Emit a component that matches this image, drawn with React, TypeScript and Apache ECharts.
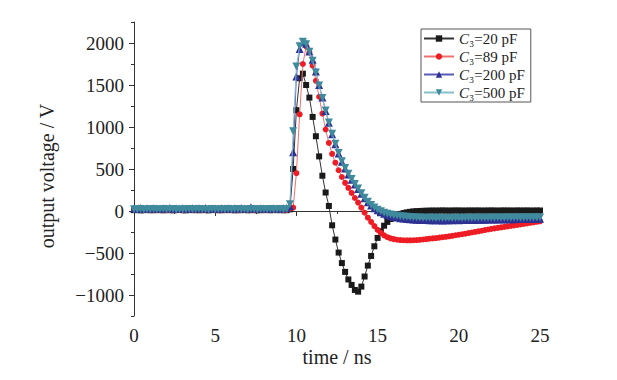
import React, { useEffect, useRef } from "react";
import * as echarts from "echarts";

const times = [
  0, 0.2, 0.4, 0.6, 0.8, 1, 1.2, 1.4, 1.6, 1.8, 2, 2.2, 2.4, 2.6, 2.8, 3, 3.2, 3.4, 3.6, 3.8,
  4, 4.2, 4.4, 4.6, 4.8, 5, 5.2, 5.4, 5.6, 5.8, 6, 6.2, 6.4, 6.6, 6.8, 7, 7.2, 7.4, 7.6, 7.8,
  8, 8.2, 8.4, 8.6, 8.8, 9, 9.2, 9.4, 9.6, 9.8, 10, 10.2, 10.4, 10.6, 10.8, 11, 11.2, 11.4, 11.6, 11.8,
  12, 12.2, 12.4, 12.6, 12.8, 13, 13.2, 13.4, 13.6, 13.8, 14, 14.2, 14.4, 14.6, 14.8, 15, 15.2, 15.4, 15.6, 15.8,
  16, 16.2, 16.4, 16.6, 16.8, 17, 17.2, 17.4, 17.6, 17.8, 18, 18.2, 18.4, 18.6, 18.8, 19, 19.2, 19.4, 19.6, 19.8,
  20, 20.2, 20.4, 20.6, 20.8, 21, 21.2, 21.4, 21.6, 21.8, 22, 22.2, 22.4, 22.6, 22.8, 23, 23.2, 23.4, 23.6, 23.8,
  24, 24.2, 24.4, 24.6, 24.8, 25,
];

// C3 = 20 pF
const v20 = [
  10, 12, 8, 10, 14, 9, 11, 10, 13, 8, 12, 10, 9, 11, 14, 10, 8, 12, 10, 11,
  9, 13, 10, 8, 12, 11, 10, 9, 13, 10, 12, 8, 11, 10, 14, 9, 10, 12, 8, 11,
  10, 13, 9, 12, 10, 11, 9, 10, 20, 500, 1200, 1580, 1635, 1500, 1350, 1120, 890, 650, 420, 220,
  60, -170, -340, -495, -620, -725, -815, -880, -940, -960, -900, -780, -650, -535, -420, -320, -240, -175, -130, -95,
  -68, -48, -35, -25, -16, -10, -5, -2, 0, 2, 3, 4, 5, 4, 5, 6, 5, 4, 5, 6,
  5, 5, 4, 6, 5, 5, 6, 4, 5, 5, 6, 5, 4, 5, 6, 5, 5, 4, 6, 5,
  5, 6, 4, 5, 5, 6,
];

// C3 = 89 pF
const v89 = [
  15, 10, 12, 16, 11, 14, 10, 13, 15, 12, 10, 14, 11, 16, 12, 10, 13, 15, 11, 12,
  14, 10, 13, 12, 15, 11, 10, 14, 12, 13, 11, 15, 10, 12, 14, 11, 13, 10, 15, 12,
  11, 14, 10, 13, 12, 11, 14, 12, 30, 40, 450, 1150, 1750, 1960, 1890, 1730, 1550, 1360, 1160, 970,
  810, 680, 575, 485, 405, 335, 275, 215, 155, 100, 40, -20, -80, -130, -180, -225, -260, -290, -312, -326,
  -335, -342, -346, -348, -349, -349, -348, -346, -343, -339, -335, -330, -326, -322, -317, -312, -307, -301, -295, -289,
  -283, -277, -270, -263, -256, -249, -242, -235, -227, -220, -213, -207, -201, -195, -189, -183, -177, -171, -165, -159,
  -153, -147, -141, -135, -129, -123,
];

// C3 = 200 pF
const v200 = [
  30, 25, 35, 28, 32, 26, 34, 30, 27, 33, 29, 35, 26, 31, 28, 34, 30, 27, 33, 29,
  32, 26, 35, 28, 31, 30, 27, 34, 29, 32, 28, 33, 26, 35, 30, 28, 45, 30, 27, 33,
  29, 31, 28, 34, 30, 27, 32, 35, 60, 700, 1600, 1930, 2010, 1990, 1900, 1800, 1660, 1500, 1350, 1190,
  1050, 915, 795, 685, 585, 505, 435, 372, 315, 262, 205, 152, 105, 66, 34, 8, -14, -32, -47, -60,
  -70, -78, -85, -90, -95, -99, -102, -104, -106, -107, -108, -110, -109, -111, -110, -112, -110, -109, -111, -108,
  -109, -107, -108, -106, -105, -106, -104, -103, -104, -102, -101, -102, -100, -99, -100, -98, -97, -98, -96, -95,
  -96, -94, -93, -94, -92, -91,
];

// C3 = 500 pF
const v500 = [
  20, 18, 24, 16, 22, 19, 25, 17, 21, 23, 18, 20, 24, 16, 22, 19, 21, 25, 17, 20,
  23, 18, 22, 16, 24, 19, 21, 20, 17, 23, 18, 22, 25, 19, 20, 16, 24, 21, 18, 22,
  20, 17, 23, 19, 21, 25, 18, 22, 80, 950, 1720, 1960, 2015, 1985, 1895, 1790, 1650, 1495, 1345, 1195,
  1055, 920, 800, 690, 592, 512, 442, 380, 322, 268, 212, 158, 110, 72, 42, 16, -4, -20, -33, -43,
  -51, -57, -62, -66, -69, -72, -74, -76, -77, -79, -80, -81, -80, -82, -81, -83, -82, -81, -83, -82,
  -81, -82, -80, -81, -82, -80, -81, -79, -80, -81, -79, -80, -78, -79, -80, -78, -79, -77, -78, -79,
  -77, -78, -76, -77, -78, -76,
];

const seriesNames = ["C3=20 pF", "C3=89 pF", "C3=200 pF", "C3=500 pF"];
const legendValues = ["20 pF", "89 pF", "200 pF", "500 pF"];
const yMajorTicks = [-1000, -500, 0, 500, 1000, 1500, 2000];
const yMinorTicks = [-1250, -1000, -750, -500, -250, 0, 250, 500, 750, 1000, 1250, 1500, 1750, 2000, 2250];

const SERIF = "Liberation Serif";

function pairs(vals: number[]) {
  return vals.map((v, i) => [times[i], v]);
}

export default function App() {
  const ref = useRef<HTMLDivElement>(null);
  useEffect(() => {
    if (!ref.current) return;
    const chart = echarts.init(ref.current, undefined, { renderer: "svg" });
    const mk = (
      idx: number,
      vals: number[],
      color: string,
      lineColor: string,
      symbol: string,
      size: number,
      rotate: number
    ) => ({
      name: seriesNames[idx],
      type: "line",
      data: pairs(vals),
      symbol,
      symbolSize: size,
      symbolRotate: rotate,
      showSymbol: true,
      showAllSymbol: true,
      itemStyle: { color },
      lineStyle: { color: lineColor, width: 1 },
      emphasis: { disabled: true },
      z: 2 + idx,
    });
    const option: any = {
      animation: false,
      backgroundColor: "#ffffff",
      textStyle: { fontFamily: SERIF },
      grid: { left: 134, right: 77, top: 22, bottom: 64 },
      legend: {
        left: 421,
        top: 29,
        orient: "vertical",
        data: seriesNames,
        itemWidth: 30,
        itemHeight: 8,
        itemGap: 3,
        padding: [2, 6, 2, 2],
        borderColor: "#555",
        borderWidth: 1,
        formatter: (name: string) => {
          const i = seriesNames.indexOf(name);
          return "{c|C}{t|\u2083=" + legendValues[i] + "}";
        },
        textStyle: {
          fontFamily: SERIF,
          fontSize: 15,
          color: "#222",
          lineHeight: 14,
          rich: {
            c: { fontFamily: SERIF, fontSize: 15, fontStyle: "italic", color: "#222", lineHeight: 14 },
            t: { fontFamily: SERIF, fontSize: 15, color: "#222", lineHeight: 14 },
          },
        },
      },
      xAxis: {
        type: "value",
        min: 0,
        max: 25,
        interval: 5,
        axisLine: { show: true, lineStyle: { color: "#333", width: 1 } },
        axisTick: { show: true, length: 5, lineStyle: { color: "#333" } },
        minorTick: { show: true, splitNumber: 2, length: 3, lineStyle: { color: "#333" } },
        splitLine: { show: false },
        axisLabel: { fontFamily: SERIF, fontSize: 19, color: "#222", margin: 10 },
      },
      yAxis: [
        {
          type: "value",
          min: -1250,
          max: 2250,
          interval: 250,
          position: "left",
          axisLine: { show: true, lineStyle: { color: "#333", width: 1 } },
          axisTick: { show: true, length: 5, customValues: yMajorTicks, lineStyle: { color: "#333" } },
          splitLine: { show: false },
          axisLabel: {
            customValues: yMajorTicks,
            fontFamily: SERIF,
            fontSize: 19,
            color: "#222",
            margin: 10,
            formatter: (v: number) => (v < 0 ? "\u2212" + Math.abs(v) : String(v)),
          },
        },
        {
          type: "value",
          min: -1250,
          max: 2250,
          interval: 250,
          position: "left",
          offset: 0,
          axisLine: { show: false },
          axisTick: { show: true, length: 3, customValues: yMinorTicks, lineStyle: { color: "#333" } },
          splitLine: { show: false },
          axisLabel: { show: false },
        },
      ],
      graphic: [
        {
          type: "text",
          x: 47,
          y: 176,
          rotation: Math.PI / 2,
          style: {
            text: "output voltage / V",
            fontFamily: SERIF,
            fontSize: 20,
            fill: "#222",
            align: "center",
            verticalAlign: "middle",
          },
        },
        {
          type: "text",
          x: 337,
          y: 357,
          style: {
            text: "time / ns",
            fontFamily: SERIF,
            fontSize: 20,
            fill: "#222",
            align: "center",
            verticalAlign: "middle",
          },
        },
      ],
      series: [
        mk(1, v89, "#ee1c24", "#f07070", "circle", 6, 0),
        mk(2, v200, "#2e3192", "#5a5ab8", "triangle", 8, 0),
        mk(3, v500, "#3f8a9c", "#86bfcd", "triangle", 8, 180),
        mk(0, v20, "#1a1a1a", "#333333", "rect", 6, 0),
      ],
    };
    chart.setOption(option);
    return () => chart.dispose();
  }, []);
  return (
    <div
      ref={ref}
      style={{ position: "fixed", left: 0, top: 0, width: 617, height: 380, background: "#fff" }}
    />
  );
}
